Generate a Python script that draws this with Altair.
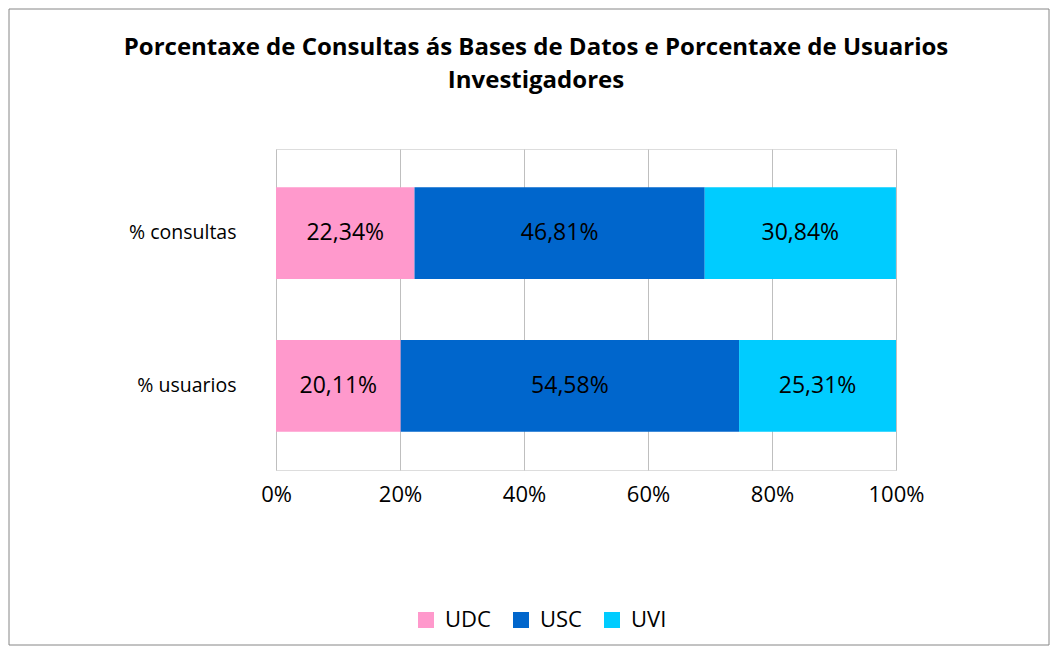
import altair as alt
import pandas as pd

categories = ["% consultas", "% usuarios"]
universities = ["UDC", "USC", "UVI"]
consultas = [22.34, 46.81, 30.84]
usuarios = [20.11, 54.58, 25.31]
colors = ["#FF99CC", "#0066CC", "#00CCFF"]
x_ticks = [0, 20, 40, 60, 80, 100]

rows = []
for cat, vals in zip(categories, [consultas, usuarios]):
    for i, (u, v) in enumerate(zip(universities, vals)):
        rows.append({"cat": cat, "uni": u, "order": i, "value": v,
                     "label": f"{v:.2f}".replace(".", ",") + "%"})
df = pd.DataFrame(rows)

FONT = "Open Sans"
W, H = 620, 321

base = alt.Chart(df)

bars = base.mark_bar(stroke=None).encode(
    y=alt.Y("cat:N", sort=categories, title=None,
            scale=alt.Scale(paddingInner=0.4, paddingOuter=0.25),
            axis=alt.Axis(labelFontSize=19.5, labelColor="#000000", labelFont=FONT,
                          labelPadding=40, ticks=False, domain=False)),
    x=alt.X("value:Q", stack="zero", title=None,
            scale=alt.Scale(domain=[0, 100]),
            axis=alt.Axis(values=x_ticks, labelExpr="datum.value + '%'",
                          labelFontSize=22, labelColor="#000000", labelFont=FONT,
                          labelPadding=14, labelFlush=False, ticks=False, domain=False,
                          grid=True, gridColor="#BFBFBF")),
    color=alt.Color("uni:N", sort=universities,
                    scale=alt.Scale(domain=universities, range=colors),
                    legend=alt.Legend(title=None, orient="none", direction="horizontal",
                                      legendX=139, legendY=460,
                                      symbolType="square", symbolSize=256,
                                      symbolStrokeWidth=0,
                                      labelFontSize=22, labelFont=FONT,
                                      labelColor="#000000", columnPadding=19,
                                      labelOffset=8)),
    order=alt.Order("order:Q"),
)

labels = base.transform_window(
    cum="sum(value)", groupby=["cat"], sort=[{"field": "order"}], frame=[None, 0]
).transform_calculate(
    mid="datum.cum - datum.value / 2"
).mark_text(fontSize=23, font=FONT, color="#000000").encode(
    y=alt.Y("cat:N", sort=categories),
    x=alt.X("mid:Q"),
    text="label:N",
)

border = alt.Chart(pd.DataFrame({"a": [0]})).mark_rect(
    fill=None, stroke="#868686", strokeWidth=1
).encode(
    x=alt.value(-267), x2=alt.value(773),
    y=alt.value(-140), y2=alt.value(496),
)

chart = alt.layer(border, bars, labels).properties(
    width=W, height=H,
    title=alt.Title(
        ["Porcentaxe de Consultas ás Bases de Datos e Porcentaxe de Usuarios",
         "Investigadores"],
        fontSize=24, font=FONT, fontWeight="bold", color="#000000",
        anchor="middle", frame="group", dx=-50, dy=88, lineHeight=33,
    ),
).configure_view(stroke=None).configure(background="white", padding=0)

chart.save("out.html", embed_options={"renderer": "svg", "actions": False})
